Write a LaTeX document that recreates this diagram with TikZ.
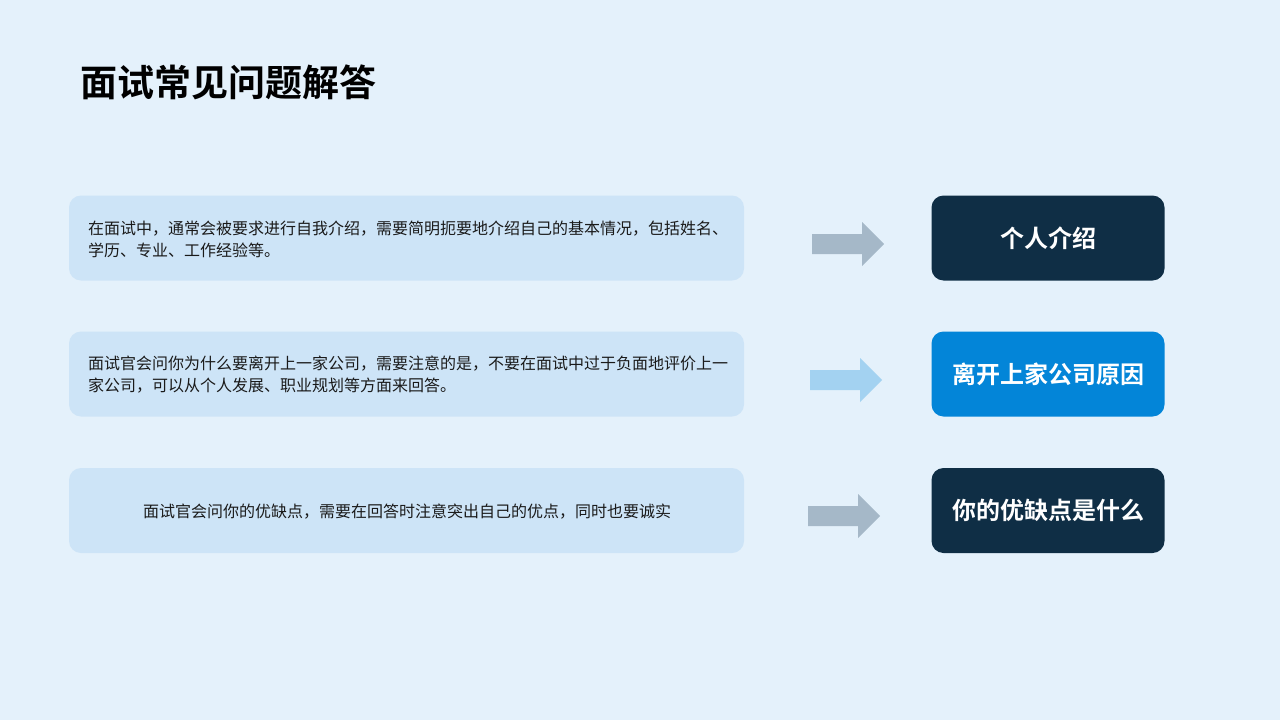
\documentclass[tikz,border=0pt]{standalone}
\usepackage{fontspec}
\setmainfont{Noto Sans CJK SC}
\newfontfamily\cjkbold{Noto Sans CJK SC Bold}
\definecolor{bgc}{HTML}{E4F1FB}
\definecolor{boxc}{HTML}{CDE4F7}
\definecolor{darkc}{HTML}{0F2E45}
\definecolor{bluec}{HTML}{0385D8}
\definecolor{greyarr}{HTML}{A5B8C8}
\definecolor{bluearr}{HTML}{A3D2F1}
\definecolor{txtc}{HTML}{1A1A1A}
\begin{document}
\begin{tikzpicture}[x=1pt,y=-1pt,
  descbox/.style={fill=boxc,rounded corners=12pt,minimum width=675pt,minimum height=85pt,inner sep=0pt},
  desctext/.style={anchor=west,text width=650pt,align=left,font=\fontsize{16pt}{22pt}\selectfont,text=txtc,inner sep=0pt},
  labelbox/.style={rounded corners=12pt,minimum width=233pt,minimum height=85pt,inner sep=0pt,text=white,font=\cjkbold\fontsize{24pt}{28pt}\selectfont}
]
\fill[bgc] (0,0) rectangle (1280,720);
\useasboundingbox (0,0) rectangle (1280,720);

\node[anchor=west,inner sep=0pt,font=\cjkbold\fontsize{37pt}{41pt}\selectfont,text=black] (title) at (80,82) {面试常见问题解答};

% description boxes
\node[descbox] (d1) at (406.5,238) {};
\node[descbox] (d2) at (406.5,374) {};
\node[descbox] (d3) at (406.5,510.5) {};

\node[desctext] (t1) at (88,239) {在面试中，通常会被要求进行自我介绍，需要简明扼要地介绍自己的基本情况，包括姓名、\\学历、专业、工作经验等。};
\node[desctext] (t2) at (88,375) {面试官会问你为什么要离开上一家公司，需要注意的是，不要在面试中过于负面地评价上一\\家公司，可以从个人发展、职业规划等方面来回答。};
\node[inner sep=0pt,font=\fontsize{16pt}{22pt}\selectfont,text=txtc] (t3) at (407,512) {面试官会问你的优缺点，需要在回答时注意突出自己的优点，同时也要诚实};

% label boxes
\node[labelbox,fill=darkc] (l1) at (1048,238) {个人介绍};
\node[labelbox,fill=bluec] (l2) at (1048,374) {离开上家公司原因};
\node[labelbox,fill=darkc] (l3) at (1048,510.5) {你的优缺点是什么};

% block arrows
\fill[greyarr] (812,234) -- (862,234) -- (862,222) -- (884,244) -- (862,266) -- (862,254) -- (812,254) -- cycle;
\fill[bluearr] (810,370) -- (860,370) -- (860,358) -- (882,380) -- (860,402) -- (860,390) -- (810,390) -- cycle;
\fill[greyarr] (808,506) -- (858,506) -- (858,494) -- (880,516) -- (858,538) -- (858,526) -- (808,526) -- cycle;
\end{tikzpicture}
\end{document}
